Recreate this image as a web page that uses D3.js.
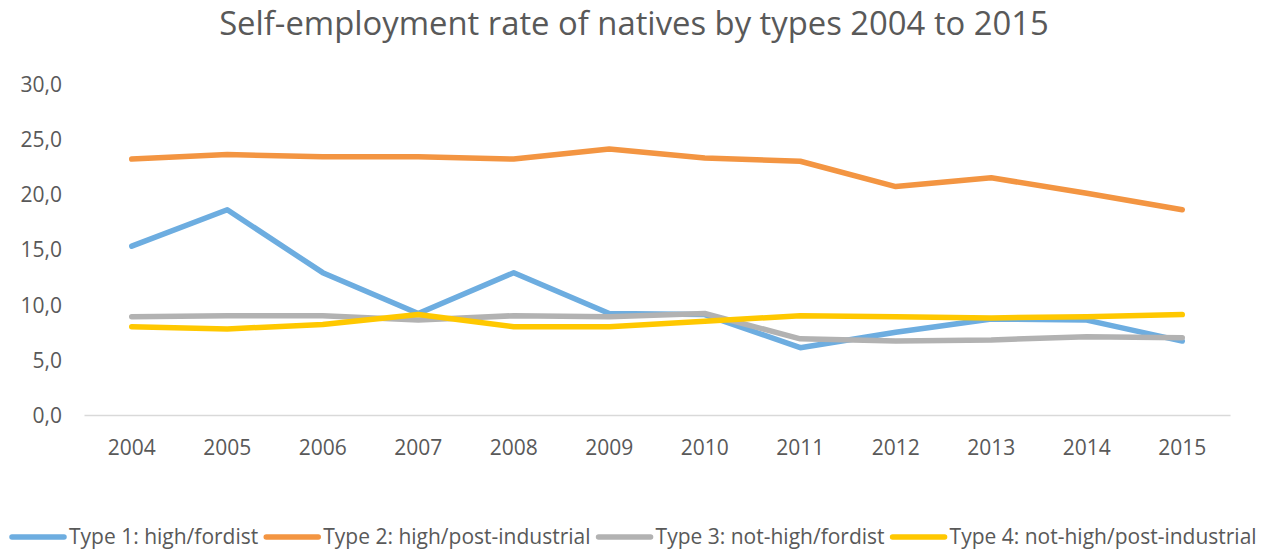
<!DOCTYPE html>
<html><head><meta charset="utf-8">
<script src="https://cdn.jsdelivr.net/npm/d3@7"></script>
<style>body{margin:0;background:#fff}svg{display:block}text{font-family:"Open Sans",sans-serif;fill:#595959}</style>
</head><body><svg id="c" width="1282" height="552"></svg>
<script>
const years = ["2004","2005","2006","2007","2008","2009","2010","2011","2012","2013","2014","2015"];
const type1 = [15.3,18.6,12.9,9.2,12.9,9.2,9.1,6.1,7.5,8.7,8.6,6.7];
const type2 = [23.2,23.6,23.4,23.4,23.2,24.1,23.3,23.0,20.7,21.5,20.1,18.6];
const type3 = [8.9,9.0,9.0,8.6,9.0,8.9,9.2,6.9,6.7,6.8,7.1,7.0];
const type4 = [8.0,7.8,8.2,9.1,8.0,8.0,8.5,9.0,8.9,8.8,8.9,9.1];
const seriesNames = ["Type 1: high/fordist","Type 2: high/post-industrial","Type 3: not-high/fordist","Type 4: not-high/post-industrial"];
const yTicks = [0,5,10,15,20,25,30];
const colors = ["#6dade0","#f39542","#b2b2b2","#ffc800"];
const title = "Self-employment rate of natives by types 2004 to 2015";

const svg = d3.select("#c");
const x = d3.scaleBand().domain(years).range([84,1230]);
const y = d3.scaleLinear().domain([0,30]).range([415,84]);

svg.append("text").attr("x",634).attr("y",35).attr("text-anchor","middle")
  .style("font-size","32.8px").text(title);

// y axis labels
const ya = svg.append("g").attr("transform","translate(62,0)")
  .call(d3.axisLeft(y).tickValues(yTicks).tickSize(0).tickPadding(0)
    .tickFormat(d=>d3.format(".1f")(d).replace(".",",")));
ya.select(".domain").remove();
ya.selectAll("text").style("font-size","21px").attr("fill","#595959").style("font-family","'Open Sans',sans-serif").attr("dy","0.35em");

// x axis
const xa = svg.append("g").attr("transform","translate(0,415)")
  .call(d3.axisBottom(x).tickSize(0).tickPadding(25));
xa.select(".domain").attr("stroke","#d9d9d9").attr("stroke-width",1.3);
xa.selectAll("text").style("font-size","21px").attr("fill","#595959").style("font-family","'Open Sans',sans-serif");

const data = [type1,type2,type3,type4];
const line = d3.line().x((d,i)=>x(years[i])+x.bandwidth()/2).y(d=>y(d));
data.forEach((s,k)=>{
  svg.append("path").attr("d",line(s)).attr("fill","none").attr("stroke",colors[k])
    .attr("stroke-width",5.5).attr("stroke-linejoin","round").attr("stroke-linecap","round");
});

// legend
const lg = svg.append("g").attr("transform","translate(0,537)");
let cx = 12;
seriesNames.forEach((n,k)=>{
  lg.append("line").attr("x1",cx).attr("x2",cx+52).attr("y1",0).attr("y2",0)
    .attr("stroke",colors[k]).attr("stroke-width",5.5).attr("stroke-linecap","round");
  const t = lg.append("text").attr("x",cx+57).attr("y",0).attr("dy","0.35em")
    .style("font-size","21px").text(n);
  cx += 57 + t.node().getComputedTextLength() + 8;
});
</script></body></html>
